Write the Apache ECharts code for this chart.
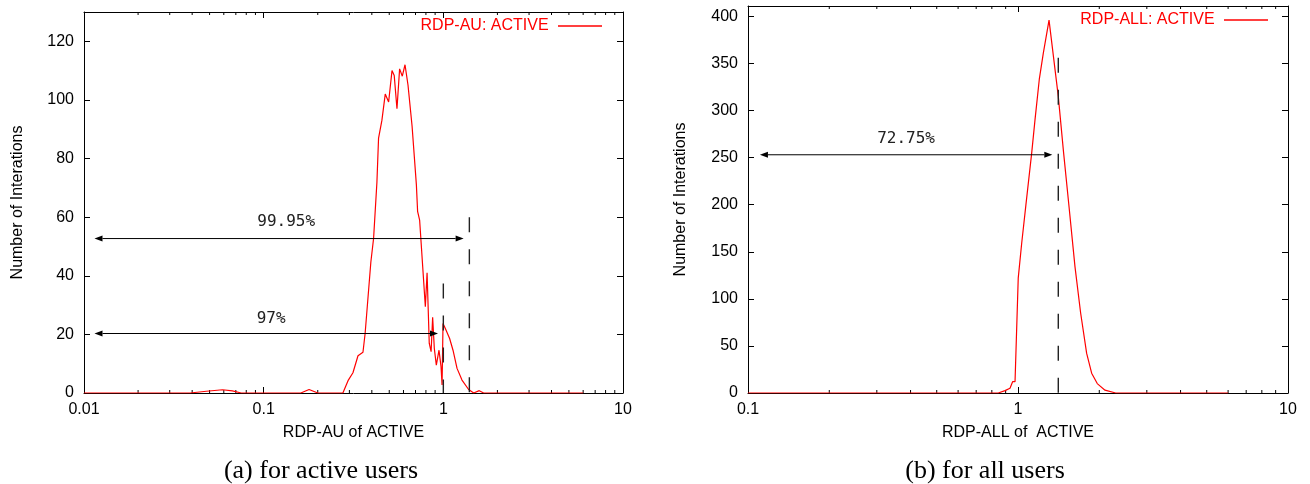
<!DOCTYPE html>
<html>
<head>
<meta charset="utf-8">
<title>RDP histograms</title>
<script src="https://cdn.jsdelivr.net/npm/echarts@6/dist/echarts.min.js"></script>
<style>
html,body{margin:0;padding:0;width:100%;height:100%;background:#fff;}
#main{width:1310px;height:484px;}
</style>
</head>
<body>
<div id="main"></div>
<script>
// (a) RDP-AU of ACTIVE : [rdp, iterations]
var auCurve = [
  [0.01,0],[0.039,0],[0.048,0.6],[0.059,1.1],[0.067,0.7],[0.075,0],
  [0.161,0],[0.179,1.2],[0.2,0],[0.276,0],[0.296,4.4],[0.314,6.9],
  [0.335,12.7],[0.357,13.9],[0.367,20.3],[0.395,44.7],[0.409,52.7],[0.427,72],
  [0.436,87],[0.455,93],[0.475,102],[0.496,99.3],[0.518,110],[0.533,108.3],
  [0.552,97],[0.571,110.6],[0.591,108.1],[0.612,112],[0.636,105],[0.670,91],
  [0.708,71],[0.719,62],[0.738,59],[0.794,29.4],[0.812,41],[0.835,16.9],
  [0.855,14.1],[0.872,25.8],[0.891,15.2],[0.914,9.5],[0.946,14.6],[0.971,9],
  [0.984,2.7],[0.996,23.7],[1.026,22],[1.084,18.6],[1.132,14.6],[1.192,8.4],
  [1.27,4.4],[1.383,1.2],[1.476,0],[1.585,0.8],[1.677,0],[6,0]
];
// (b) RDP-ALL of ACTIVE
var allCurve = [
  [0.1,0],[0.845,0],[0.895,2.5],[0.934,5],[0.955,12],[0.968,10.3],[0.975,12],
  [1.002,122],[1.032,159],[1.07,200],[1.124,255],[1.156,290],[1.199,333],
  [1.241,361],[1.303,396],[1.352,358],[1.41,315],[1.472,258],[1.545,198],
  [1.626,134],[1.706,85],[1.796,42],[1.874,21],[1.966,10],[2.1,3],[2.3,0],[6,0]
];

// annotations: arrows [from, to, y], labels [x, y, text], dashed markers [x, top]
var auArrows = [[0.01144, 1.297, 52.7], [0.01144, 0.934, 20.3]];
var auLabels = [[0.1334, 58.3, '99.95%'], [0.110, 25.2, '97%']];
var auDashes = [[1.396, 60], [1.0, 37.4]];
var allArrows = [[0.1107, 1.34, 253]];
var allLabels = [[0.385, 270, '72.75%']];
var allDashes = [[1.41, 356]];

function minorTicks(lo, hi) {
  var out = [];
  for (var d = lo; d < hi; d *= 10) {
    for (var k = 2; k <= 9; k++) out.push([d * k, 0]);
  }
  return out;
}

var sans = 'Liberation Sans';
var mono = 'DejaVu Sans Mono';

var myChart = echarts.init(document.getElementById('main'));

function xAxes(g, min, max, name) {
  var base = {
    gridIndex: g, type: 'log', logBase: 10, min: min, max: max,
    axisLine: { onZero: false, lineStyle: { color: '#000', width: 1 } },
    axisTick: { inside: true, length: 6, lineStyle: { color: '#000' } },
    splitLine: { show: false }
  };
  var bottom = Object.assign({}, base, {
    position: 'bottom', name: name, nameLocation: 'middle', nameGap: 32,
    nameTextStyle: { fontSize: 16, color: '#000', fontFamily: sans },
    axisLabel: { fontSize: 16, color: '#000', fontFamily: sans, margin: 9 }
  });
  var top = Object.assign({}, base, { position: 'top', axisLabel: { show: false } });
  return [bottom, top];
}

function yAxes(g, max, step, nameGap) {
  var base = {
    gridIndex: g, type: 'value', min: 0, max: max, interval: step,
    axisLine: { show: true, lineStyle: { color: '#000', width: 1 } },
    axisTick: { show: true, inside: true, length: 6, lineStyle: { color: '#000' } },
    splitLine: { show: false }
  };
  var left = Object.assign({}, base, {
    position: 'left', name: 'Number of Interations', nameLocation: 'middle', nameGap: nameGap,
    nameTextStyle: { fontSize: 16, color: '#000', fontFamily: sans },
    axisLabel: { fontSize: 16, color: '#000', fontFamily: sans, margin: 10, showMaxLabel: false }
  });
  var right = Object.assign({}, base, { position: 'right', axisLabel: { show: false } });
  return [left, right];
}

function tickSeries(xi, yi, data) {
  return {
    type: 'custom', xAxisIndex: xi, yAxisIndex: yi, data: data, silent: true,
    renderItem: function (params, api) {
      var cs = params.coordSys;
      var x = api.coord([api.value(0), 0])[0];
      var yb = cs.y + cs.height, yt = cs.y;
      return {
        type: 'group', children: [
          { type: 'line', shape: { x1: x, y1: yb, x2: x, y2: yb - 3 }, style: { stroke: '#000', lineWidth: 1 } },
          { type: 'line', shape: { x1: x, y1: yt, x2: x, y2: yt + 3 }, style: { stroke: '#000', lineWidth: 1 } }
        ]
      };
    }
  };
}

function arrowSeries(xi, yi, data) {
  return {
    type: 'custom', xAxisIndex: xi, yAxisIndex: yi, data: data, silent: true, z: 5,
    renderItem: function (params, api) {
      var p1 = api.coord([api.value(0), api.value(2)]);
      var p2 = api.coord([api.value(1), api.value(2)]);
      var L = 8, W = 3;
      return {
        type: 'group', children: [
          { type: 'line', shape: { x1: p1[0] + L, y1: p1[1], x2: p2[0] - L, y2: p2[1] }, style: { stroke: '#000', lineWidth: 1 } },
          { type: 'polygon', shape: { points: [[p1[0], p1[1]], [p1[0] + L, p1[1] - W], [p1[0] + L, p1[1] + W]] }, style: { fill: '#000' } },
          { type: 'polygon', shape: { points: [[p2[0], p2[1]], [p2[0] - L, p2[1] - W], [p2[0] - L, p2[1] + W]] }, style: { fill: '#000' } }
        ]
      };
    }
  };
}

function labelSeries(xi, yi, data) {
  return {
    type: 'custom', xAxisIndex: xi, yAxisIndex: yi, data: data, silent: true, z: 5,
    renderItem: function (params, api) {
      var p = api.coord([api.value(0), api.value(1)]);
      return {
        type: 'text', x: p[0], y: p[1],
        style: {
          text: data[params.dataIndex][2], fontSize: 16, fontFamily: mono, fill: '#222',
          align: 'center', verticalAlign: 'middle', textAlign: 'center', textVerticalAlign: 'middle'
        }
      };
    }
  };
}

function dashSeries(xi, yi, data) {
  return {
    type: 'custom', xAxisIndex: xi, yAxisIndex: yi, data: data, silent: true, z: 4,
    renderItem: function (params, api) {
      var pt = api.coord([api.value(0), api.value(1)]);
      var pb = api.coord([api.value(0), 0]);
      return {
        type: 'line', shape: { x1: pt[0], y1: pt[1], x2: pb[0], y2: pb[1] },
        style: { stroke: '#222', lineWidth: 1.4, lineDash: [15, 17] }
      };
    }
  };
}

function legendFor(name, right, top) {
  return {
    data: [name], right: right, top: top, padding: 0, align: 'right', selectedMode: false,
    icon: 'rect', itemWidth: 44, itemHeight: 1.5, formatter: '{name} ',
    textStyle: { color: '#ff0000', fontSize: 16, fontFamily: sans }
  };
}

var xa = xAxes(0, 0.01, 10, 'RDP-AU of ACTIVE');
var xb = xAxes(1, 0.1, 10, 'RDP-ALL of  ACTIVE');
var ya = yAxes(0, 130, 20, 58);
var yb = yAxes(1, 411, 50, 59);

myChart.setOption({
  animation: false,
  backgroundColor: '#fff',
  grid: [
    { left: 84, top: 12, width: 539, height: 381 },
    { left: 748, top: 6, width: 540, height: 387 }
  ],
  legend: [legendFor('RDP-AU: ACTIVE', 708, 18), legendFor('RDP-ALL: ACTIVE', 42, 12)],
  xAxis: [xa[0], xa[1], xb[0], xb[1]],
  yAxis: [ya[0], ya[1], yb[0], yb[1]],
  graphic: [
    { type: 'text', x: 321, y: 471, style: { text: '(a) for active users', fontSize: 26, fontFamily: 'Liberation Serif', fill: '#000', align: 'center', verticalAlign: 'middle', textAlign: 'center', textVerticalAlign: 'middle' } },
    { type: 'text', x: 985, y: 471, style: { text: '(b) for all users', fontSize: 26, fontFamily: 'Liberation Serif', fill: '#000', align: 'center', verticalAlign: 'middle', textAlign: 'center', textVerticalAlign: 'middle' } }
  ],
  series: [
    {
      name: 'RDP-AU: ACTIVE', type: 'line', xAxisIndex: 0, yAxisIndex: 0, data: auCurve,
      showSymbol: false, symbol: 'none', color: '#ff0000', lineStyle: { color: '#ff0000', width: 1.2 }, z: 3
    },
    {
      name: 'RDP-ALL: ACTIVE', type: 'line', xAxisIndex: 2, yAxisIndex: 2, data: allCurve,
      showSymbol: false, symbol: 'none', color: '#ff0000', lineStyle: { color: '#ff0000', width: 1.2 }, z: 3
    },
    tickSeries(0, 0, minorTicks(0.01, 10)),
    tickSeries(2, 2, minorTicks(0.1, 10)),
    arrowSeries(0, 0, auArrows),
    arrowSeries(2, 2, allArrows),
    labelSeries(0, 0, auLabels),
    labelSeries(2, 2, allLabels),
    dashSeries(0, 0, auDashes),
    dashSeries(2, 2, allDashes)
  ]
});

window.addEventListener('resize', function () {
  myChart.resize();
});
</script>
</body>
</html>
